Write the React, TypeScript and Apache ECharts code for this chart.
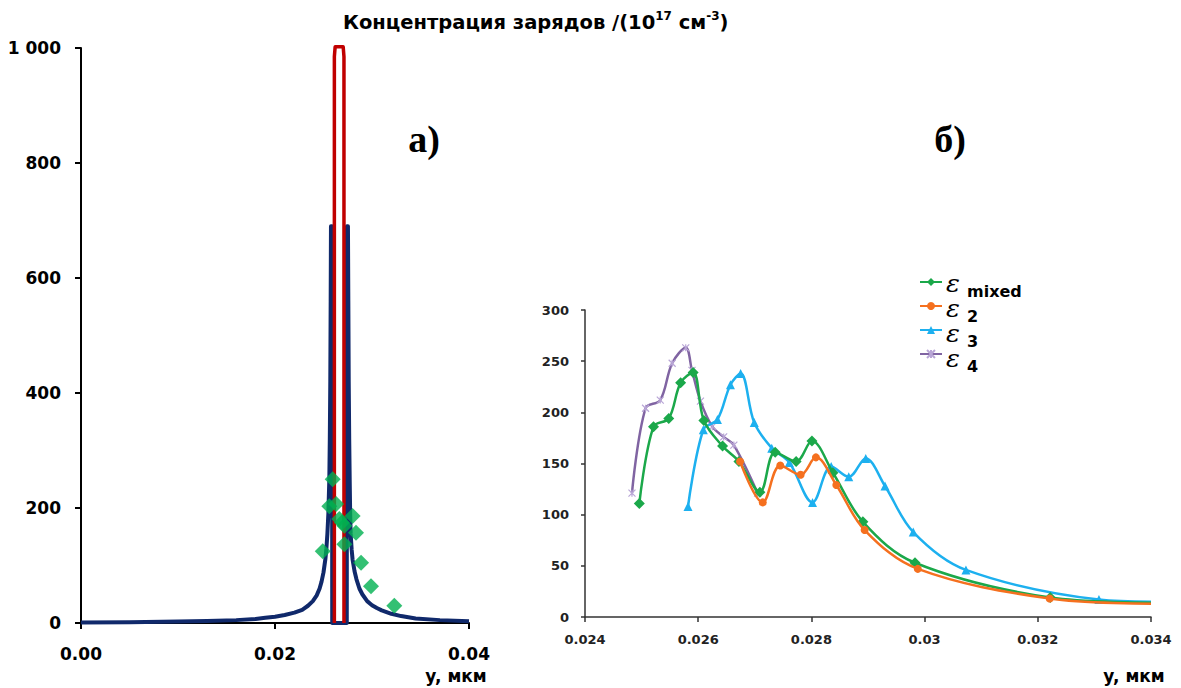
import React, { useEffect, useRef } from "react";
import * as echarts from "echarts";

// ---- Left panel (а) ----
const leftXTicks = [0, 0.02, 0.04];
const leftBlue: [number, number][] = [
  [0, 1], [0.005, 1.5], [0.01, 2.5], [0.013, 3.5], [0.016, 5], [0.018, 7], [0.019, 9],
  [0.02, 11], [0.021, 14], [0.022, 18], [0.0228, 23], [0.0234, 30], [0.0239, 38],
  [0.0243, 48], [0.0246, 60], [0.0248, 72], [0.025, 88], [0.0252, 112], [0.0253, 130],
  [0.0254, 155], [0.0255, 190], [0.0256, 250], [0.02565, 320], [0.0257, 420],
  [0.02574, 560], [0.02577, 690], [0.02588, 690], [0.0259, 0],
  [0.0274, 0], [0.02742, 690], [0.02752, 690], [0.02756, 560], [0.0276, 420],
  [0.02765, 320], [0.0277, 250], [0.02775, 190], [0.0278, 155], [0.0279, 128],
  [0.028, 110], [0.0282, 90], [0.0284, 76], [0.0287, 60], [0.029, 50], [0.0295, 38],
  [0.03, 31], [0.0305, 26], [0.031, 22], [0.032, 16], [0.033, 12], [0.0345, 8],
  [0.037, 5], [0.04, 3],
];
const leftRed: [number, number][] = [
  [0.02612, 0], [0.02612, 985], [0.0262, 1002], [0.02703, 1002], [0.02711, 985], [0.02711, 0],
];
const leftPoints: [number, number][] = [
  [0.02595, 250], [0.0256, 203], [0.0263, 207], [0.02663, 181], [0.0269, 175],
  [0.02715, 169], [0.028, 186], [0.02835, 157], [0.02715, 137], [0.02492, 125],
  [0.02887, 105], [0.0299, 64], [0.0323, 30],
];

// ---- Right panel (б) ----
const epsMixed: [number, number][] = [
  [0.02496, 111], [0.02521, 186], [0.02548, 194], [0.02569, 229], [0.02591, 239],
  [0.0261, 192], [0.02643, 167], [0.02672, 152], [0.02709, 122], [0.02736, 161],
  [0.02773, 152], [0.02801, 172], [0.02838, 141], [0.02891, 93], [0.02983, 53],
  [0.03222, 19], [0.034, 14],
];
const eps2: [number, number][] = [
  [0.02674, 152], [0.02714, 112], [0.02745, 148], [0.02781, 139], [0.02808, 156],
  [0.02844, 129], [0.02894, 85], [0.02988, 47], [0.03221, 18], [0.034, 13],
];
const eps3: [number, number][] = [
  [0.02582, 108], [0.02609, 183], [0.02634, 193], [0.02657, 227], [0.02675, 238],
  [0.02699, 190], [0.0273, 165], [0.02761, 151], [0.02802, 112], [0.02835, 147],
  [0.02866, 137], [0.02896, 155], [0.0293, 128], [0.0298, 83], [0.03073, 46],
  [0.03308, 17], [0.034, 15],
];
const eps4: [number, number][] = [
  [0.02483, 121], [0.02507, 204], [0.02533, 212], [0.02554, 248], [0.02578, 263],
  [0.02589, 241], [0.02604, 211], [0.02625, 186], [0.02645, 176], [0.02663, 168],
  [0.02705, 121],
];
const legendNames = ["εmixed", "ε2", "ε3", "ε4"];
const legendSubs = ["mixed", "2", "3", "4"];

const SANS = "'DejaVu Sans', sans-serif";

function withTail(arr: [number, number][], tail: boolean) {
  return arr.map((p, i) =>
    tail && i === arr.length - 1 ? { value: p, symbol: "none" } : p
  );
}

export default function App() {
  const ref = useRef<HTMLDivElement>(null);
  useEffect(() => {
    if (!ref.current) return;
    const chart = echarts.init(ref.current, null, { renderer: "svg" });
    const axisLineL = { show: true, lineStyle: { color: "#000", width: 2 } };
    const axisLineR = { show: true, lineStyle: { color: "#333", width: 1.5 } };
    const lineCommon = {
      type: "line",
      xAxisIndex: 1,
      yAxisIndex: 1,
      smooth: 0.35,
      lineStyle: { width: 2.5 },
    };
    const legendTop = 277;
    const rowGap = 25;
    const legendTexts: any[] = [];
    legendSubs.forEach((sub, i) => {
      const cy = legendTop + 5 + i * rowGap;
      legendTexts.push({
        type: "text", x: 946, y: cy + 1, scaleX: 1.3, scaleY: 1.25,
        style: { text: "ε", fontFamily: "'DejaVu Serif', serif", fontStyle: "italic", fontSize: 20, fill: "#000", align: "left", verticalAlign: "middle" },
      });
      legendTexts.push({
        type: "text", x: 967, y: cy + 9,
        style: { text: sub, fontFamily: SANS, fontWeight: "bold", fontSize: 16, fill: "#000", align: "left", verticalAlign: "middle" },
      });
    });
    chart.setOption({
      animation: false,
      backgroundColor: "#fff",
      grid: [
        { left: 81, top: 48, width: 388, height: 575 },
        { left: 585, top: 310, width: 566, height: 307 },
      ],
      xAxis: [
        {
          gridIndex: 0, type: "value", min: leftXTicks[0], max: leftXTicks[2], interval: 0.02,
          axisLine: axisLineL, splitLine: { show: false },
          axisTick: { show: true, length: 6, lineStyle: { color: "#000", width: 2 } },
          axisLabel: {
            margin: 22, fontFamily: SANS, fontWeight: "bold", fontSize: 17, color: "#000",
            formatter: (v: number) => v.toFixed(2),
          },
        },
        {
          gridIndex: 1, type: "value", min: 0.024, max: 0.034, interval: 0.002,
          axisLine: axisLineR, splitLine: { show: false },
          axisTick: { show: true, length: 5, lineStyle: { color: "#333", width: 1.5 } },
          axisLabel: {
            margin: 16, fontFamily: SANS, fontWeight: "bold", fontSize: 13, color: "#222",
            formatter: (v: number) => String(+v.toFixed(3)),
          },
        },
      ],
      yAxis: [
        {
          gridIndex: 0, type: "value", min: 0, max: 1000, interval: 200,
          axisLine: axisLineL, splitLine: { show: false },
          axisTick: { show: true, length: 6, lineStyle: { color: "#000", width: 2 } },
          axisLabel: {
            margin: 20, fontFamily: SANS, fontWeight: "bold", fontSize: 17, color: "#000",
            formatter: (v: number) => (v === 1000 ? "1 000" : String(v)),
          },
        },
        {
          gridIndex: 1, type: "value", min: 0, max: 300, interval: 50,
          axisLine: axisLineR, splitLine: { show: false },
          axisTick: { show: true, length: 4, lineStyle: { color: "#333", width: 1.5 } },
          axisLabel: {
            margin: 16, fontFamily: SANS, fontWeight: "bold", fontSize: 13, color: "#222",
          },
        },
      ],
      legend: {
        data: legendNames,
        orient: "vertical",
        left: 919,
        top: legendTop,
        padding: 0,
        itemWidth: 22,
        itemHeight: 10,
        itemGap: rowGap - 10,
        formatter: () => "",
        textStyle: { fontSize: 1 },
      },
      series: [
        {
          type: "line", name: "blueProfile", xAxisIndex: 0, yAxisIndex: 0, data: leftBlue,
          showSymbol: false, symbol: "none", z: 2,
          lineStyle: { color: "#10296b", width: 4, join: "round" },
        },
        {
          type: "line", name: "redProfile", xAxisIndex: 0, yAxisIndex: 0, data: leftRed,
          showSymbol: false, symbol: "none", z: 3, clip: false,
          lineStyle: { color: "#c00000", width: 3.5, join: "round" },
        },
        {
          type: "scatter", name: "points", xAxisIndex: 0, yAxisIndex: 0, data: leftPoints,
          symbol: "diamond", symbolSize: 16, z: 4,
          itemStyle: { color: "#00b050" },
        },
        {
          ...lineCommon, name: "ε4", data: eps4, symbol: "path://M0,0 L10,10 M10,0 L0,10 M5,0 L5,10",
          symbolSize: 7, showSymbol: true, z: 5,
          lineStyle: { width: 2.5, color: "#8064a2" },
          itemStyle: { color: "#8064a2", borderColor: "#b9a6d6", borderWidth: 1.2 },
        },
        {
          ...lineCommon, name: "ε3", data: withTail(eps3, true), symbol: "triangle",
          symbolSize: 9, showSymbol: true, z: 6,
          lineStyle: { width: 2.5, color: "#1db0ef" },
          itemStyle: { color: "#1db0ef" },
        },
        {
          ...lineCommon, name: "εmixed", data: withTail(epsMixed, true), symbol: "diamond",
          symbolSize: 11, showSymbol: true, z: 7,
          lineStyle: { width: 2.5, color: "#1ba84a" },
          itemStyle: { color: "#1ba84a" },
        },
        {
          ...lineCommon, name: "ε2", data: withTail(eps2, true), symbol: "circle",
          symbolSize: 8, showSymbol: true, z: 8,
          lineStyle: { width: 2.5, color: "#f5701f" },
          itemStyle: { color: "#f5701f" },
        },
      ],
      graphic: [
        {
          type: "text", left: 343, top: 10,
          style: {
            text: "{m|Концентрация зарядов /(10}{s|17}{m| см}{s|-3}{m|)}",
            rich: {
              m: { fontFamily: SANS, fontWeight: "bold", fontSize: 19.5, lineHeight: 24, fill: "#000" },
              s: { fontFamily: SANS, fontWeight: "bold", fontSize: 12, lineHeight: 13, verticalAlign: "top", fill: "#000" },
            },
          },
        },
        {
          type: "text", x: 424, y: 158,
          style: { text: "а)", fontFamily: "'Liberation Serif', serif", fontWeight: "bold", fontSize: 38, fill: "#000", align: "center", verticalAlign: "bottom" },
        },
        {
          type: "text", x: 950, y: 158,
          style: { text: "б)", fontFamily: "'Liberation Serif', serif", fontWeight: "bold", fontSize: 38, fill: "#000", align: "center", verticalAlign: "bottom" },
        },
        {
          type: "text", x: 456, y: 676,
          style: { text: "y, мкм", fontFamily: SANS, fontWeight: "bold", fontSize: 17, fill: "#000", align: "center", verticalAlign: "middle" },
        },
        {
          type: "text", x: 1134, y: 676,
          style: { text: "y, мкм", fontFamily: SANS, fontWeight: "bold", fontSize: 17, fill: "#000", align: "center", verticalAlign: "middle" },
        },
        ...legendTexts,
      ],
    });
    return () => chart.dispose();
  }, []);
  return (
    <div
      ref={ref}
      style={{ position: "fixed", left: 0, top: 0, width: 1181, height: 688, background: "#fff" }}
    />
  );
}
